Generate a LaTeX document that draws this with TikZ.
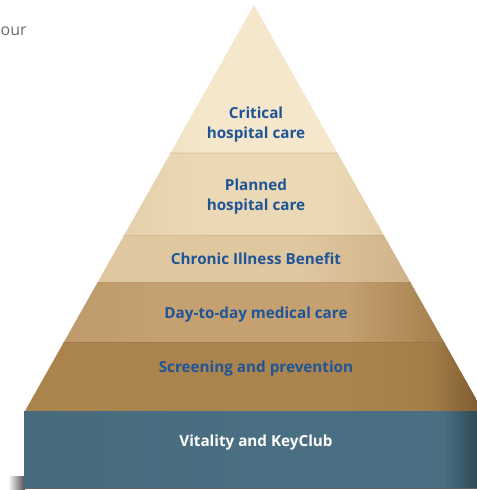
\documentclass[tikz,border=0pt]{standalone}
\usepackage{fontspec}
\setmainfont{Open Sans}
\usepackage{tikz}

\definecolor{tiertext}{HTML}{1F5597}
\definecolor{ourgray}{HTML}{6B6B6B}
\definecolor{critA}{HTML}{F4E7CB}
\definecolor{critB}{HTML}{E4CFA8}
\definecolor{planA}{HTML}{EBD9B6}
\definecolor{planB}{HTML}{D5B98E}
\definecolor{chroA}{HTML}{DFC7A0}
\definecolor{chroB}{HTML}{C6A478}
\definecolor{dayA}{HTML}{C5A070}
\definecolor{dayB}{HTML}{98703F}
\definecolor{scrA}{HTML}{AB844D}
\definecolor{scrB}{HTML}{7D5930}
\definecolor{baseA}{HTML}{476B7D}
\definecolor{baseB}{HTML}{4A6F82}
\definecolor{baseC}{HTML}{2C4652}

\pgfdeclarehorizontalshading{critfill}{100bp}{color(0bp)=(critB); color(25bp)=(critB); color(45bp)=(critA); color(60bp)=(critA); color(75bp)=(critB); color(100bp)=(critB)}
\pgfdeclarehorizontalshading{planfill}{100bp}{color(0bp)=(planB); color(25bp)=(planB!60!planA); color(45bp)=(planA); color(58bp)=(planA); color(75bp)=(planB); color(100bp)=(planB)}
\pgfdeclarehorizontalshading{chrofill}{100bp}{color(0bp)=(chroA); color(25bp)=(chroA); color(55bp)=(chroA); color(75bp)=(chroB); color(100bp)=(chroB)}
\pgfdeclarehorizontalshading{dayfill}{100bp}{color(0bp)=(dayA); color(25bp)=(dayA!95!black); color(40bp)=(dayA); color(60bp)=(dayA); color(75bp)=(dayB); color(100bp)=(dayB)}
\pgfdeclarehorizontalshading{scrfill}{100bp}{color(0bp)=(scrA); color(25bp)=(scrA); color(60bp)=(scrA); color(69bp)=(scrA!85!scrB); color(75bp)=(scrB); color(100bp)=(scrB)}
\pgfdeclarehorizontalshading{basefill}{100bp}{color(0bp)=(baseA); color(25bp)=(baseA); color(50bp)=(baseB); color(71bp)=(baseB); color(75bp)=(baseC); color(100bp)=(baseC)}

\tikzset{
  tier/.style={text=tiertext, font=\bfseries\fontsize{15.3}{20}\selectfont, align=center},
  basetier/.style={text=white, font=\bfseries\fontsize{15.3}{20}\selectfont, align=center}
}

\begin{document}
\begin{tikzpicture}[x=1bp, y=-1bp]
				\useasboundingbox (0,0) rectangle (477,490);
				% pyramid bands
				\begin{scope}
				\clip (254,5) -- (25,411) -- (483,411) -- cycle;
				\shade[shading=critfill] (25,0) rectangle (483,153);
				\shade[shading=planfill] (25,153) rectangle (483,235);
				\shade[shading=chrofill] (25,235) rectangle (483,282);
				\shade[shading=dayfill] (25,282) rectangle (483,342);
				\shade[shading=scrfill] (25,342) rectangle (483,411);
				\draw[critB!85!black, opacity=0.25] (0,153) -- (490,153);
				\draw[planB!85!black, opacity=0.25] (0,235) -- (490,235);
				\draw[chroB!85!black, opacity=0.25] (0,282) -- (490,282);
				\draw[dayB!85!black, opacity=0.25] (0,342) -- (490,342);
				\end{scope}
				% base block and its shadow
				\shade[left color=white, right color=black!70] (8,476) rectangle (25,489);
				\fill[black!60] (24,486) rectangle (477,489);
				\shade[shading=basefill] (24,411) rectangle (480,487);
				% labels
				\node[font=\fontsize{16}{18}\selectfont, text=ourgray, anchor=base west, inner sep=0pt] (our) at (0.5,36) {our};
				\node[tier] (critical) at (256,125) {Critical\\hospital care};
				\node[tier] (planned) at (256,197) {Planned\\hospital care};
				\node[tier] (chronic) at (256,259) {Chronic Illness Benefit};
				\node[tier] (daytoday) at (256,315) {Day-to-day medical care};
				\node[tier] (screening) at (256,369) {Screening and prevention};
				\node[basetier] (vitality) at (256,443) {Vitality and KeyClub};
				\end{tikzpicture}
\end{document}
